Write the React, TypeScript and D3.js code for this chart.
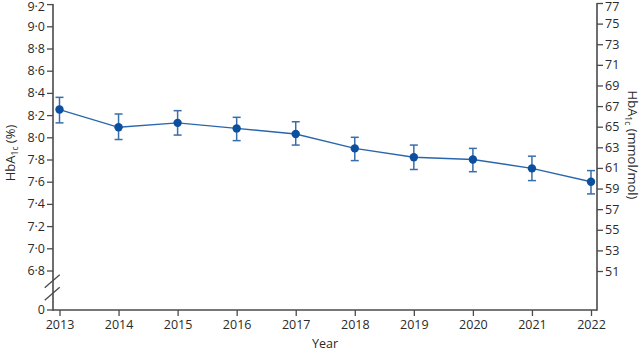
import { useEffect, useRef } from "react";
import * as d3 from "d3";

const years = [2013, 2014, 2015, 2016, 2017, 2018, 2019, 2020, 2021, 2022];
const means = [8.25, 8.09, 8.13, 8.08, 8.03, 7.9, 7.82, 7.8, 7.72, 7.6];
const lower = [8.13, 7.98, 8.02, 7.97, 7.93, 7.79, 7.71, 7.69, 7.61, 7.49];
const upper = [8.36, 8.21, 8.24, 8.18, 8.14, 8.0, 7.93, 7.9, 7.83, 7.7];
const pctTicks = [6.8, 7.0, 7.2, 7.4, 7.6, 7.8, 8.0, 8.2, 8.4, 8.6, 8.8, 9.0, 9.2];
const mmolTicks = [51, 53, 55, 57, 59, 61, 63, 65, 67, 69, 71, 73, 75, 77];

const W = 643;
const H = 352;
const FONT = "'Open Sans', 'Noto Sans', sans-serif";
const AXIS = "#4a4a4a";
const TXT = "#2a2a2a";
const BLUE = "#0b4f9e";

export default function App() {
  const svgRef = useRef<SVGSVGElement>(null);

  useEffect(() => {
    document.body.style.margin = "0";
    const svg = d3.select(svgRef.current);
    svg.selectAll("*").remove();

    const left = 53;
    const right = 597;
    const bottom = 310;

    const x = d3.scaleLinear().domain([2013, 2022]).range([59.5, 591]);
    const y = d3.scaleLinear().domain([6.8, 9.2]).range([270.5, 4.1]);
    const yR = d3.scaleLinear().domain([51, 77]).range([271, 3]);

    const fmt = (v: number) => v.toFixed(1).replace(".", "\u00b7");

    // left axis
    const gL = svg.append("g").attr("transform", `translate(${left},0)`);
    gL.call(d3.axisLeft(y).tickValues(pctTicks).tickFormat(d => fmt(+d)).tickSize(6).tickPadding(2));
    gL.select(".domain").remove();
    gL.selectAll(".tick text").attr("font-family", FONT).attr("font-size", 12.5).attr("fill", TXT)
      .attr("dy", (d: any) => (d >= 9.2 ? "0.5em" : "0.32em"));
    gL.selectAll(".tick line").attr("stroke", AXIS).attr("stroke-width", 1.3);
    // zero tick
    gL.append("line").attr("x1", -6).attr("x2", 0).attr("y1", bottom).attr("y2", bottom)
      .attr("stroke", AXIS).attr("stroke-width", 1.3);
    gL.append("text").attr("x", -8).attr("y", bottom).attr("dy", "0.32em").attr("text-anchor", "end")
      .attr("font-family", FONT).attr("font-size", 12.5).attr("fill", TXT).text("0");
    gL.append("line").attr("x1", 0).attr("x2", 0).attr("y1", y(9.2)).attr("y2", bottom + 0.7)
      .attr("stroke", AXIS).attr("stroke-width", 1.6);

    // axis break marks
    [0, 12.5].forEach(off => {
      gL.append("line")
        .attr("x1", -8.3).attr("y1", 287.7 + off)
        .attr("x2", 6.7).attr("y2", 274.7 + off)
        .attr("stroke", AXIS).attr("stroke-width", 1.3);
    });

    // right axis
    const gR = svg.append("g").attr("transform", `translate(${right},0)`);
    gR.call(d3.axisRight(yR).tickValues(mmolTicks).tickFormat(d => String(d)).tickSize(6).tickPadding(2));
    gR.select(".domain").remove();
    gR.selectAll(".tick text").attr("font-family", FONT).attr("font-size", 12.5).attr("fill", TXT)
      .attr("dy", (d: any) => (d >= 77 ? "0.6em" : "0.32em"));
    gR.selectAll(".tick line").attr("stroke", AXIS).attr("stroke-width", 1.3);
    gR.append("line").attr("x1", 0).attr("x2", 0).attr("y1", yR(77)).attr("y2", bottom + 0.7)
      .attr("stroke", AXIS).attr("stroke-width", 1.6);

    // bottom axis
    const gB = svg.append("g").attr("transform", `translate(0,${bottom})`);
    gB.call(d3.axisBottom(x).tickValues(years).tickFormat(d => String(d)).tickSize(6).tickPadding(4));
    gB.select(".domain").remove();
    gB.selectAll(".tick text").attr("font-family", FONT).attr("font-size", 12.5).attr("fill", TXT);
    gB.selectAll(".tick line").attr("stroke", AXIS).attr("stroke-width", 1.3);
    gB.append("line").attr("x1", left).attr("x2", right).attr("y1", 0).attr("y2", 0)
      .attr("stroke", AXIS).attr("stroke-width", 1.6);

    // axis titles
    const lt = svg.append("text")
      .attr("transform", `translate(15,153) rotate(-90)`)
      .attr("text-anchor", "middle")
      .attr("font-family", FONT).attr("font-size", 13).attr("fill", TXT);
    lt.append("tspan").text("HbA");
    lt.append("tspan").attr("font-size", 8.5).attr("dy", 3).text("1c");
    lt.append("tspan").attr("dy", -3).text(" (%)");

    const rt = svg.append("text")
      .attr("transform", `translate(628,145) rotate(90)`)
      .attr("text-anchor", "middle")
      .attr("font-family", FONT).attr("font-size", 13).attr("fill", TXT);
    rt.append("tspan").text("HbA");
    rt.append("tspan").attr("font-size", 8.5).attr("dy", 3).text("1c");
    rt.append("tspan").attr("dy", -3).text(" (mmol/mol)");

    svg.append("text").attr("x", 325).attr("y", 348).attr("text-anchor", "middle")
      .attr("font-family", FONT).attr("font-size", 12.5).attr("fill", TXT).text("Year");

    const data = years.map((yr, i) => ({ yr, m: means[i], lo: lower[i], hi: upper[i] }));

    // line
    svg.append("path")
      .datum(data)
      .attr("fill", "none")
      .attr("stroke", "#2a66ad")
      .attr("stroke-width", 1.4)
      .attr("d", d3.line<any>().x(d => x(d.yr)).y(d => y(d.m)));

    // error bars
    const eb = svg.append("g").attr("stroke", "#3a6ea8").attr("stroke-width", 1.5);
    data.forEach(d => {
      eb.append("line").attr("x1", x(d.yr)).attr("x2", x(d.yr)).attr("y1", y(d.lo)).attr("y2", y(d.hi));
      eb.append("line").attr("x1", x(d.yr) - 4).attr("x2", x(d.yr) + 4).attr("y1", y(d.lo)).attr("y2", y(d.lo));
      eb.append("line").attr("x1", x(d.yr) - 4).attr("x2", x(d.yr) + 4).attr("y1", y(d.hi)).attr("y2", y(d.hi));
    });

    // points
    svg.selectAll("circle.pt")
      .data(data)
      .enter()
      .append("circle")
      .attr("class", "pt")
      .attr("cx", d => x(d.yr))
      .attr("cy", d => y(d.m))
      .attr("r", 4.2)
      .attr("fill", BLUE);
  }, []);

  return <svg ref={svgRef} width={W} height={H} style={{ display: "block", background: "#fff" }}></svg>;
}
